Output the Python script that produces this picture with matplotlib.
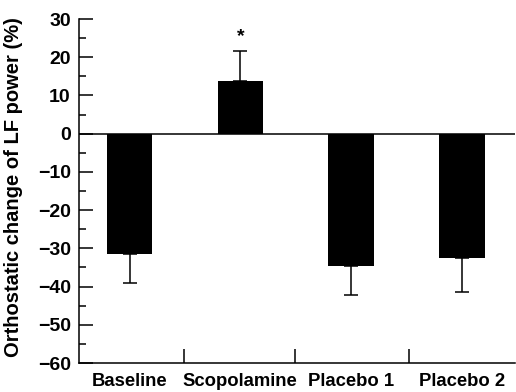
import matplotlib
matplotlib.use("Agg")
import matplotlib.pyplot as plt
import numpy as np

categories = ["Baseline", "Scopolamine", "Placebo 1", "Placebo 2"]
means = [-31.4, 13.9, -34.5, -32.5]
sems = [7.6, 7.8, 7.6, 9.0]
ytick_labels = ["\u221260", "\u221250", "\u221240", "\u221230", "\u221220", "\u221210", "0", "10", "20", "30"]
yticks = [-60, -50, -40, -30, -20, -10, 0, 10, 20, 30]

plt.rcParams['font.family'] = ['Liberation Sans', 'DejaVu Sans']

fig = plt.figure(figsize=(5.16, 3.92), dpi=100)
W, H = 516, 392
ax = fig.add_axes([79 / W, (H - 363) / H, (515 - 79) / W, (363 - 19) / H])

x = np.arange(len(categories))
ax.bar(x, means, width=0.41, color="black", zorder=2)

lower = [s if m < 0 else 0 for m, s in zip(means, sems)]
upper = [s if m >= 0 else 0 for m, s in zip(means, sems)]
ax.errorbar(x, means, yerr=[lower, upper], fmt="none", ecolor="black",
            elinewidth=1.1, capsize=4.8, capthick=1.1, zorder=3)

ax.text(1, 25.4, "*", ha="center", va="center", fontsize=14, fontweight="bold")

ax.axhline(0, color="black", lw=1.1, zorder=1)

ax.set_ylim(-60, 30)
ax.set_xlim(-0.456, 3.48)
ax.set_yticks(yticks)
ax.set_yticklabels(ytick_labels, fontsize=14, fontweight="bold")
ax.set_yticks(np.arange(-55, 30, 10), minor=True)
ax.tick_params(axis="y", which="major", direction="in", length=10, width=1.1, pad=6)
ax.tick_params(axis="y", which="minor", direction="in", length=5, width=1.1)

ax.set_xticks(x)
ax.set_xticklabels(categories, fontsize=13.3, fontweight="bold")
ax.set_xticks([0.49, 1.49, 2.52], minor=True)
ax.tick_params(axis="x", which="major", length=0, pad=7)
ax.tick_params(axis="x", which="minor", direction="in", length=10, width=1.1)

for s in ["top", "right"]:
    ax.spines[s].set_visible(False)
for s in ["left", "bottom"]:
    ax.spines[s].set_linewidth(1.1)

ax.set_ylabel("Orthostatic change of LF power (%)", fontsize=14.5, fontweight="bold")
ax.yaxis.set_label_coords(-0.128, 0.512)

fig.savefig("out.png", dpi=100)
